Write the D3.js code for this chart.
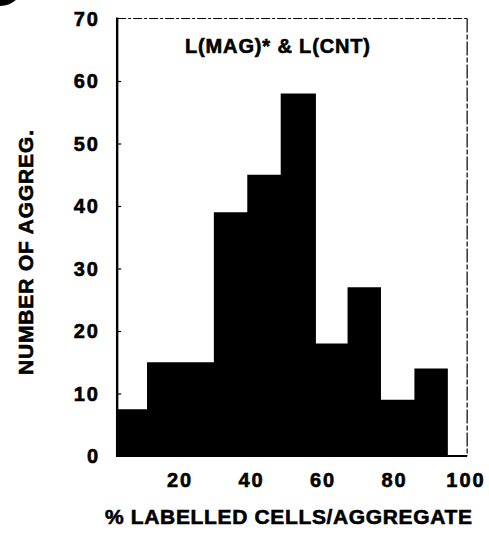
<!DOCTYPE html>
<html>
<head>
<meta charset="utf-8">
<script src="https://cdn.jsdelivr.net/npm/d3@7"></script>
<style>
  html, body { margin: 0; padding: 0; background: #fff; }
  svg { display: block; }
  text { font-family: "Liberation Sans", Arial, Helvetica, sans-serif; font-weight: bold; fill: #000; stroke: #000; stroke-width: 0.6px; }
</style>
</head>
<body>
<svg id="chart" width="489" height="533"></svg>
<script>
// ---- data ----
const binEdges = [2.7, 11.05, 20.4, 29.75, 39.1, 48.45, 58.3, 67.15, 76.5, 85.85, 95.2]; // % labelled cells per aggregate
const counts   = [7.5, 15, 15, 39, 45, 58, 18, 27, 9, 14];                             // number of aggregates
const xTicks   = [20, 40, 60, 80, 100];
const yTicks   = [0, 10, 20, 30, 40, 50, 60, 70];
const xExtent  = [2.7, 100.6];
const yExtent  = [0, 70];
const chartTitle = "L(MAG)* & L(CNT)";
const xTitle = "% LABELLED CELLS/AGGREGATE";
const yTitle = "NUMBER OF AGGREG.";

// ---- layout ----
const svg = d3.select("#chart");
const x = d3.scaleLinear().domain([0, 100]).range([107.5, 465]);
const y = d3.scaleLinear().domain([0, 70]).range([456, 18.5]);

// histogram drawn as one stepped area (no seams between adjacent bins)
const steps = counts.map((c, i) => ({ e: binEdges[i], n: c }));
steps.push({ e: binEdges[binEdges.length - 1], n: counts[counts.length - 1] });
const area = d3.area()
  .curve(d3.curveStepAfter)
  .x(d => x(d.e))
  .y0(y(0))
  .y1(d => y(d.n));
svg.append("path")
  .datum(steps)
  .attr("d", area)
  .attr("fill", "#000");

// frame: top & right thin, broken lines
svg.append("line")
  .attr("x1", x(xExtent[0])).attr("x2", x(xExtent[1]))
  .attr("y1", y(yExtent[1])).attr("y2", y(yExtent[1]))
  .attr("stroke", "#000").attr("stroke-width", 1).attr("stroke-dasharray", "9,2,3,2");
svg.append("line")
  .attr("x1", x(xExtent[1])).attr("x2", x(xExtent[1]))
  .attr("y1", y(yExtent[1])).attr("y2", y(0))
  .attr("stroke", "#000").attr("stroke-width", 1.2).attr("stroke-dasharray", "14,2,5,2");

// left axis (thick) with inner ticks
const yAxis = d3.axisRight(y).tickValues(yTicks.slice(1, -1)).tickSize(4).tickFormat("");
const gy = svg.append("g").attr("transform", `translate(${x(xExtent[0])},0)`).call(yAxis);
gy.select(".domain").remove();
gy.selectAll("line").attr("stroke", "#000").attr("stroke-width", 1.2);
svg.append("line")
  .attr("x1", x(xExtent[0])).attr("x2", x(xExtent[0]))
  .attr("y1", y(yExtent[1]) - 1).attr("y2", y(0) + 1)
  .attr("stroke", "#000").attr("stroke-width", 2.4);

// bottom axis line (thick)
svg.append("line")
  .attr("x1", x(xExtent[0])).attr("x2", x(xExtent[1]))
  .attr("y1", y(0)).attr("y2", y(0))
  .attr("stroke", "#000").attr("stroke-width", 2);

// y tick labels
svg.append("g").selectAll("text").data(yTicks).join("text")
  .attr("x", 98).attr("y", d => y(d))
  .attr("dy", "0.36em")
  .attr("text-anchor", "end")
  .style("font-size", "20px")
  .style("letter-spacing", "2px")
  .attr("dx", 2)
  .text(d => d);

// x tick labels
svg.append("g").selectAll("text").data(xTicks).join("text")
  .attr("x", d => x(d)).attr("y", 487)
  .attr("text-anchor", "middle")
  .style("font-size", "20px")
  .style("letter-spacing", "2px")
  .attr("dx", 1)
  .text(d => d);

// chart title
svg.append("text")
  .attr("x", 277.5).attr("y", 53)
  .attr("text-anchor", "middle")
  .style("font-size", "20px")
  .attr("textLength", 185).attr("lengthAdjust", "spacing")
  .text(chartTitle);

// x axis title
svg.append("text")
  .attr("x", 288.5).attr("y", 524)
  .attr("text-anchor", "middle")
  .style("font-size", "21px")
  .attr("textLength", 367).attr("lengthAdjust", "spacing")
  .text(xTitle);

// y axis title (rotated)
svg.append("text")
  .attr("transform", "translate(33,375) rotate(-90)")
  .attr("text-anchor", "start")
  .style("font-size", "21px")
  .attr("textLength", 245).attr("lengthAdjust", "spacing")
  .text(yTitle);

// panel-label blot at top-left corner of the scan
svg.append("circle")
  .attr("cx", 0).attr("cy", -18).attr("r", 24)
  .attr("fill", "#000");
</script>
</body>
</html>
